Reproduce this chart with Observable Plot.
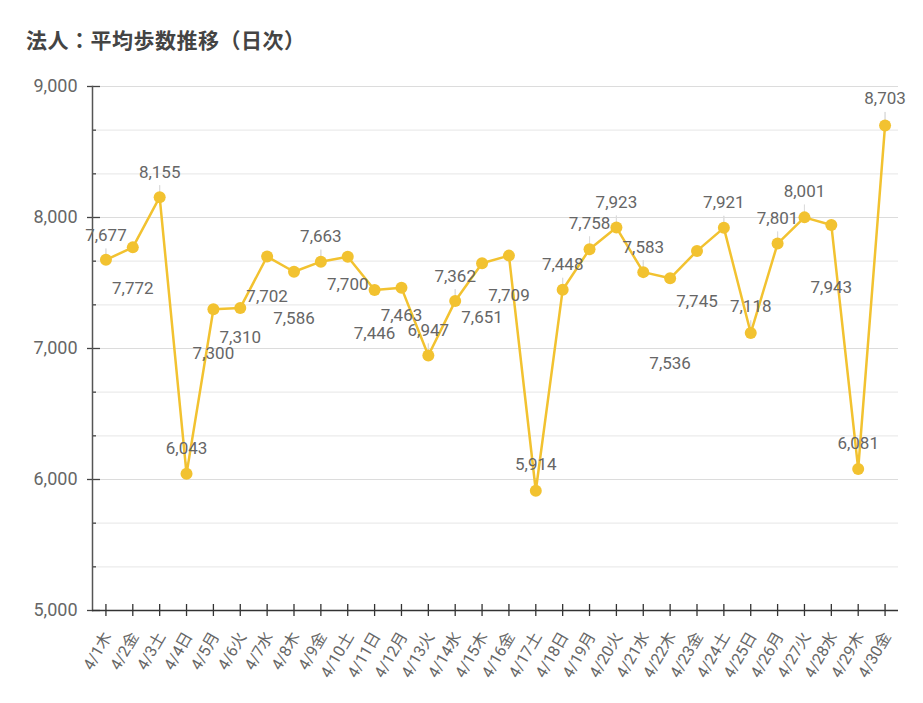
<!DOCTYPE html>
<html><head><meta charset="utf-8">
<script src="https://cdn.jsdelivr.net/npm/d3@7"></script>
<script src="https://cdn.jsdelivr.net/npm/@observablehq/plot@0.6"></script>
<style>
body{margin:0;background:#fff;font-family:Roboto,"Noto Sans CJK JP",sans-serif;}
#title{position:absolute;left:26px;top:24px;font-weight:bold;font-size:21px;font-family:"Noto Sans CJK JP",sans-serif;color:#444;letter-spacing:0.5px;}
#chart{position:absolute;left:0;top:60px;}
</style></head><body>
<div id="title">法人：平均歩数推移（日次）</div>
<div id="chart"></div>
<script>
const days = ["4/1木","4/2金","4/3土","4/4日","4/5月","4/6火","4/7水","4/8木","4/9金","4/10土","4/11日","4/12月","4/13火","4/14水","4/15木","4/16金","4/17土","4/18日","4/19月","4/20火","4/21水","4/22木","4/23金","4/24土","4/25日","4/26月","4/27火","4/28水","4/29木","4/30金"];
const steps = [7677,7772,8155,6043,7300,7310,7702,7586,7663,7700,7446,7463,6947,7362,7651,7709,5914,7448,7758,7923,7583,7536,7745,7921,7118,7801,8001,7943,6081,8703];
// label placement (pixel offset of each value label from its point)
const labelDy = [-24,41,-25,-25,44,30,40,47,-25,28,43,28,-25,-25,54,40,-26,-25,-26,-25,-25,85,51,-25,-26,-25,-26,63,-25,-27];
const majorTicks = [5000,6000,7000,8000,9000];
const minorTicks = [5333.33,5666.67,6333.33,6666.67,7333.33,7666.67,8333.33,8666.67];
const majorGrid = [6000,7000,8000,9000];

const data = days.map((d,i)=>({d, v: steps[i], dy: labelDy[i]}));
const fmt = d3.format(",");
const col = "#f2c230";
const leaders = data.filter(d=>d.dy<0).map(d=>({...d, len: -d.dy-8}));

const chart = Plot.plot({
  width: 923, height: 643,
  marginTop: 26, marginBottom: 93, marginLeft: 92, marginRight: 25,
  style: {fontFamily: "Roboto, 'Noto Sans CJK JP', sans-serif", fontSize: "16px", color: "#666", background: "white"},
  x: {type: "band", domain: days, padding: 0, round: false, label: null},
  y: {domain: [5000, 9000], label: null},
  marks: [
    Plot.gridY(minorTicks, {stroke: "#ebebeb", strokeOpacity: 1, strokeWidth: 1.2}),
    Plot.gridY(majorGrid, {stroke: "#dcdcdc", strokeOpacity: 1, strokeWidth: 1.2}),
    Plot.axisY(majorTicks, {tickSize: 0, tickPadding: 15, tickFormat: fmt, fontSize: 18, fill: "#666", stroke: "none", label: null}),
    Plot.axisY(majorTicks, {tickSize: 13, dx: 8, fill: "none", stroke: "#444", strokeWidth: 1.3, label: null}),
    Plot.axisY(minorTicks, {tickSize: 4, dx: 4, fill: "none", stroke: "#444", strokeWidth: 1.3, label: null}),
    Plot.frame({anchor: "left", stroke: "#555", strokeWidth: 1.5}),
    Plot.axisX({tickSize: 0, tickPadding: 23, dx: 2, tickRotate: -60, fontSize: 16, fill: "#666", stroke: "none", label: null}),
    Plot.axisX({tickSize: 12, dy: -6, fill: "none", stroke: "#333", strokeWidth: 1.3, label: null}),
    Plot.ruleY([5000], {stroke: "#333", strokeWidth: 1.5}),
    Plot.vector(leaders, {x: "d", y: "v", length: "len", rotate: 0, anchor: "start", shape: "spike", r: 0.1, stroke: "#dcdcdc", fill: "none", strokeWidth: 1}),
    Plot.line(data, {x: "d", y: "v", stroke: col, strokeWidth: 2.5}),
    Plot.dot(data, {x: "d", y: "v", r: 6, fill: col}),
    ...data.map(d => Plot.text([d], {x: "d", y: "v", text: d => fmt(d.v), dy: d.dy, fontSize: 17, fill: "#666"}))
  ]
});
document.getElementById("chart").appendChild(chart);
</script>
</body></html>
